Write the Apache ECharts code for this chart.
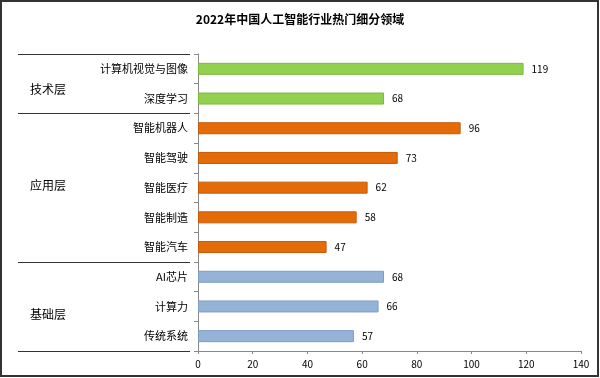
<!DOCTYPE html>
<html><head><meta charset="utf-8">
<script src="https://cdn.jsdelivr.net/npm/echarts@6/dist/echarts.min.js"></script>
<style>html,body{margin:0;padding:0;background:#fff}#main{width:600px;height:378px}</style>
</head><body><div id="main"></div>
<script>
const title = '2022年中国人工智能行业热门细分领域';
const categories = ['计算机视觉与图像','深度学习','智能机器人','智能驾驶','智能医疗','智能制造','智能汽车','AI芯片','计算力','传统系统'];
const values = [119, 68, 96, 73, 62, 58, 47, 68, 66, 57];
const groupNames = ['技术层','应用层','基础层'];
const groupSizes = [2, 5, 3];
const groupColors = ['#92D050','#E36C09','#95B3D7'];
const groupBorders = ['#7DB93A','#C55A06','#7F9DC4'];
const xTicks = [0, 20, 40, 60, 80, 100, 120, 140];

const font = '"Noto Sans CJK SC", "Microsoft YaHei", sans-serif';
const groupOf = [];
groupSizes.forEach((n, g) => { for (let i = 0; i < n; i++) groupOf.push(g); });

const chart = echarts.init(document.getElementById('main'));
const option = {
  animation: false,
  title: { text: title, left: 'center', top: 8,
    textStyle: { fontFamily: font, fontSize: 12, fontWeight: 'bold', color: '#000' } },
  grid: { left: 198, right: 19, top: 54, bottom: 27 },
  xAxis: { type: 'value', min: xTicks[0], max: xTicks[xTicks.length-1], interval: 20,
    axisLine: { show: true, lineStyle: { color: '#888' } },
    axisTick: { show: true, length: 3, lineStyle: { color: '#888' } },
    splitLine: { show: false },
    axisLabel: { fontFamily: font, fontSize: 10, color: '#000', margin: 8 } },
  yAxis: { type: 'category', data: categories, inverse: true,
    axisLine: { show: true, lineStyle: { color: '#888' } },
    axisTick: { show: true, length: 4, lineStyle: { color: '#888' } },
    axisLabel: { fontFamily: font, fontSize: 11, color: '#000', margin: 10 } },
  series: [{
    type: 'bar', barWidth: 12,
    data: values.map((v, i) => ({ value: v, itemStyle: { color: groupColors[groupOf[i]], borderColor: groupBorders[groupOf[i]], borderWidth: 1, borderRadius: 0 } })),
    label: { show: true, position: 'right', distance: 8, fontFamily: font, fontSize: 10, color: '#000' }
  }]
};
chart.setOption(option);

const graphics = [];
const band = Math.abs(chart.convertToPixel({yAxisIndex:0},1) - chart.convertToPixel({yAxisIndex:0},0));
let start = 0;
const labelOffsets = [8, 0, 10];
const boundaries = [];
groupSizes.forEach((n, g) => {
  const top = chart.convertToPixel({yAxisIndex:0}, start) - band/2;
  const bottom = chart.convertToPixel({yAxisIndex:0}, start + n - 1) + band/2;
  boundaries.push(top);
  if (g === groupSizes.length - 1) boundaries.push(bottom);
  graphics.push({ type: 'text', left: 30, top: (top + bottom)/2 + labelOffsets[g] - 8,
    style: { text: groupNames[g], fontFamily: font, fontSize: 12, fill: '#000' } });
  start += n;
});
boundaries.forEach(y => {
  graphics.push({ type: 'line', shape: { x1: 18, y1: Math.round(y)+0.5, x2: 190, y2: Math.round(y)+0.5 },
    style: { stroke: '#333', lineWidth: 1.2 } });
});
graphics.push({ type: 'rect', shape: { x: 1, y: 1, width: 597, height: 375 },
  style: { fill: 'none', stroke: '#333', lineWidth: 2 }, silent: true });
chart.setOption({ graphic: graphics });
</script></body></html>
